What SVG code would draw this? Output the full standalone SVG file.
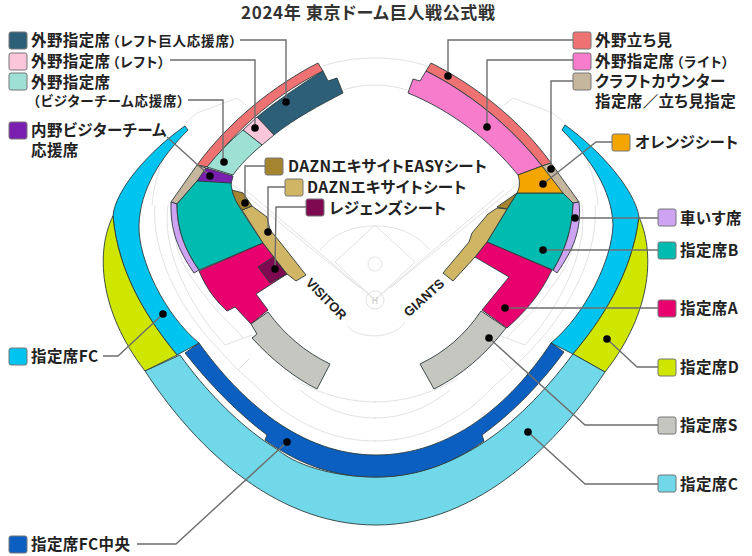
<svg xmlns="http://www.w3.org/2000/svg" width="752" height="556" viewBox="0 0 752 556">
<style>
text{font-family:"Noto Sans CJK JP","Noto Sans",sans-serif;font-weight:700;font-size:15.5px;letter-spacing:.4px;fill:#222;font-feature-settings:"palt"}
.s{font-size:13.5px;letter-spacing:.8px}
.t{font-size:17px;letter-spacing:0;fill:#333}
.sw{stroke:#777;stroke-width:1}
.r{stroke:#2c3c3c;stroke-width:.9;stroke-linejoin:round}
.f{fill:none;stroke:#e2e2e2;stroke-width:1}
.c{fill:none;stroke:#6e6e6e;stroke-width:1.4}
.d{fill:#000}
.vg{font-family:"Liberation Sans",sans-serif;font-size:13px;letter-spacing:0;fill:#222}
</style>
<rect width="752" height="556" fill="#fff"/>
<g id="field">
<path id="fh" class="f" d="M375,58C355,58 338,61 323,66M375,85C363,85 352,87 343,90M176,205C170,230 176,258 197,285C215,312 228,320 243,338M168,205C163,240 178,285 212,330L225,345L252,335M155,205C152,240 168,292 210,340L238,370L250,358M197,113L237,98L246,105M197,113C170,135 155,170 152,205M292,378C315,392 345,402 376,402M300,390C325,410 350,418 376,418M238,370C250,380 265,395 277,406C310,430 340,441 376,441"/>
<use href="#fh" transform="matrix(-1 0 0 1 750 0)"/>
<path class="f" d="M232,184L360,288M518,184L390,288M246,190L375,300L504,190M335,262L375,225L415,262L375,300ZM320,250C335,232 355,226 375,226C395,226 415,232 430,250M347,325C356,340 394,340 405,322"/>
<circle class="f" cx="375" cy="264" r="7"/>
<circle class="f" cx="375" cy="300" r="9"/>
<text x="375" y="304" text-anchor="middle" style="font-size:9px;fill:#c8c8c8;font-weight:400">H</text>
<text class="vg" transform="translate(323,302) rotate(46)" text-anchor="middle">VISITOR</text>
<text class="vg" transform="translate(427,301) rotate(-42)" text-anchor="middle">GIANTS</text>
</g>
<text class="t" x="241" y="19" textLength="254" lengthAdjust="spacing">2024年 東京ドーム巨人戦公式戦</text>

<g id="seat-gaiya-tachimi">
<path class="r" fill="#ef7272" d="M318,63L323,71C280,92 240,125 208,167L197,165C230,120 275,85 318,63Z"/>
<path class="r" fill="#ef7272" d="M431,63L426,71C468,92 510,125 542,166L551,163C520,120 475,85 431,63Z"/>
<rect class="sw" x="573" y="32" width="18" height="17" rx="2" fill="#ef7272"/><text x="595" y="46">外野立ち見</text>
</g>
<g id="seat-left-giants">
<path class="r" fill="#2d5f78" d="M323,71L328,81L337,78L343,93C320,105 295,118 274,135L257,117C278,100 300,85 323,71Z"/>
<rect class="sw" x="9" y="32" width="18" height="17" rx="2" fill="#2d5f78"/><text x="31" y="46">外野指定席<tspan class="s" dx="2">（レフト巨人応援席）</tspan></text>
</g>
<g id="seat-left">
<path class="r" fill="#fcc6da" d="M257,117L274,135L262,145L243,130Z"/>
<rect class="sw" x="9" y="53" width="18" height="17" rx="2" fill="#fcc6da"/><text x="31" y="67">外野指定席<tspan class="s" dx="2">（レフト）</tspan></text>
</g>
<g id="seat-left-visitor">
<path class="r" fill="#9fe0d5" d="M243,130L262,145C252,153 240,165 233,175L207,167C218,153 230,141 243,130Z"/>
<rect class="sw" x="9" y="73" width="18" height="17" rx="2" fill="#9fe0d5"/><text x="31" y="87.5">外野指定席</text><text class="s" x="33" y="105.5">（ビジターチーム応援席）</text>
</g>
<g id="seat-infield-visitor">
<path class="r" fill="#7b1fb0" d="M206,168L233,176L231,184L197,181Z"/>
<rect class="sw" x="9" y="122" width="18" height="17" rx="2" fill="#7b1fb0"/><text x="31" y="136">内野ビジターチーム</text><text x="31" y="156">応援席</text>
</g>
<g id="seat-craft">
<path class="r" fill="#c6b69e" d="M197,165L206,168L197,181L177,204L171,202Z"/>
<path class="r" fill="#c6b69e" d="M542,166L551,163L579,202L573,203L562,193Z"/>
<rect class="sw" x="573" y="73" width="18" height="17" rx="2" fill="#c6b69e"/><text x="595" y="87">クラフトカウンター</text><text x="595" y="107">指定席／立ち見指定</text>
</g>
<g id="seat-wheelchair">
<path class="r" fill="#cda3f2" d="M171,202L177,204C177,230 185,250 199,270L194,273C178,250 170,230 171,202Z"/>
<path class="r" fill="#cda3f2" d="M573,203L579,202C582,230 573,250 557,273L553,270C565,250 572,230 573,203Z"/>
<rect class="sw" x="658" y="209" width="18" height="17" rx="2" fill="#cda3f2"/><text x="680" y="224">車いす席</text>
</g>
<g id="seat-b">
<path class="r" fill="#00bcb0" d="M197,181L231,183C232,200 248,220 263,243L199,270C185,250 177,230 177,204Z"/>
<path class="r" fill="#00bcb0" d="M517,193L563,193L573,203C572,230 565,250 553,270L487,242Z"/>
<rect class="sw" x="658" y="242" width="18" height="17" rx="2" fill="#00bcb0"/><text x="680" y="256">指定席B</text>
</g>
<g id="seat-a">
<path class="r" fill="#e8006e" d="M263,243L287,274L256,294L268,310L251,324L235,307L227,311C212,297 205,285 199,271Z"/>
<path class="r" fill="#e8006e" d="M487,242L552,270C540,295 525,312 507,328L482,310L509,277L475,257Z"/>
<rect class="sw" x="658" y="300" width="18" height="17" rx="2" fill="#e8006e"/><text x="680" y="314">指定席A</text>
</g>
<g id="seat-legends">
<path class="r" fill="#7d0a50" d="M258,267L273,257L287,274L270,283Z"/>
<rect class="sw" x="306" y="199" width="18" height="17" rx="2" fill="#7d0a50"/><text x="329" y="214">レジェンズシート</text>
</g>
<g id="seat-dazn">
<path class="r" fill="#d0b565" d="M242,210L252,206L267,217L270,230L280,242L306,275L296,281L287,274L263,243Z"/>
<path class="r" fill="#d0b565" d="M497,208L507,209L487,242L475,257L453,281L443,273L469,242L472,233L488,214Z"/>
<rect class="sw" x="285" y="179" width="18" height="17" rx="2" fill="#d0b565"/><text x="307" y="193">DAZNエキサイトシート</text>
</g>
<g id="seat-dazn-easy">
<path class="r" fill="#a58430" d="M232,190L243,193L252,206L242,210C237,204 234,198 232,190Z"/>
<path class="r" fill="#a58430" d="M517,193L497,207L507,209Z"/>
<rect class="sw" x="265" y="158" width="18" height="17" rx="2" fill="#a58430"/><text x="288" y="172">DAZNエキサイトEASYシート</text>
</g>
<g id="seat-s">
<path class="r" fill="#c6c6c0" d="M268,312C285,335 305,352 330,364L317,389C295,378 272,360 252,338L257,334L251,324Z"/>
<path class="r" fill="#c6c6c0" d="M481,311L506,328C485,355 462,375 434,389L420,364C445,352 465,335 481,311Z"/>
<rect class="sw" x="658" y="417" width="18" height="17" rx="2" fill="#c6c6c0"/><text x="680" y="431">指定席S</text>
</g>
<g id="seat-gaiya-right">
<path class="r" fill="#f87ccc" d="M426,71L420,81L413,79L408,93C450,110 490,140 518,175L542,166C510,125 468,92 426,71Z"/>
<rect class="sw" x="573" y="53" width="18" height="17" rx="2" fill="#f87ccc"/><text x="595" y="67">外野指定席<tspan class="s" dx="2">（ライト）</tspan></text>
</g>
<g id="seat-orange">
<path class="r" fill="#f5a500" d="M518,175L542,166L563,193L517,193C520,187 520,181 518,175Z"/>
<rect class="sw" x="612" y="134" width="18" height="17" rx="2" fill="#f5a500"/><text x="635" y="148">オレンジシート</text>
</g>
<g id="seat-fc">
<path class="r" fill="#00c4f0" d="M185,126L188,130C160,158 140,190 139,225C138,260 165,315 199,343L177,355C150,322 118,275 113,216C115,190 150,150 185,126Z"/>
<path class="r" fill="#00c4f0" d="M565,125L562,130C590,158 612,190 613,225C612,260 585,315 551,343L573,354C600,322 632,275 639,217C635,190 600,150 565,125Z"/>
<rect class="sw" x="9" y="348" width="18" height="17" rx="2" fill="#00c4f0"/><text x="31" y="362">指定席FC</text>
</g>
<g id="seat-d">
<path class="r" fill="#cfe600" d="M113,216C96,250 98,310 145,371L177,355C150,322 118,275 113,216Z"/>
<path class="r" fill="#cfe600" d="M639,217C654,250 654,310 605,372L573,354C600,322 632,275 639,217Z"/>
<rect class="sw" x="658" y="359" width="18" height="17" rx="2" fill="#cfe600"/><text x="680" y="373">指定席D</text>
</g>
<g id="seat-c">
<path class="r" fill="#70d8e8" d="M145,371L180,355C205,390 235,420 263,440L278,450C300,468 340,477 376,477C412,477 450,465 486,441C520,418 550,385 573,354L605,372C560,440 480,525 376,525C270,525 190,440 145,371Z"/>
<rect class="sw" x="658" y="475" width="18" height="17" rx="2" fill="#70d8e8"/><text x="680" y="490">指定席C</text>
</g>
<g id="seat-fc-center">
<path class="r" fill="#0a5fc0" d="M199,343C240,400 300,455 376,455C450,455 510,405 551,343L564,352C540,385 510,415 482,435L484,441C450,465 415,477 376,477C335,477 300,465 265,440L267,435C240,415 210,385 185,353Z"/>
<rect class="sw" x="9" y="536" width="18" height="17" rx="2" fill="#0a5fc0"/><text x="31" y="550">指定席FC中央</text>
</g>
<g id="connectors">
<path class="c" d="M240,40H286V102M170,60H255V129M188,100H223V162M167,137L210,176M265,166H245V203M285,187H268V232M306,207H276L275,269M103,356H118L163,314M137,544H176L287,442M573,40H448V76M573,60H487V127M573,81H551V169M612,142H596L543,184M658,218H575M658,250H543M658,308H505M658,367H637L607,339M658,425H585L489,338M658,484H585L528,432"/>
<g class="d">
<circle cx="286" cy="102" r="3.8"/><circle cx="255" cy="128" r="3.8"/><circle cx="224" cy="162" r="3.8"/><circle cx="210" cy="176" r="3.8"/><circle cx="245" cy="203" r="3.8"/><circle cx="268" cy="232" r="3.8"/><circle cx="275" cy="269" r="3.8"/><circle cx="163" cy="314" r="3.8"/><circle cx="287" cy="442" r="3.8"/><circle cx="448" cy="76" r="3.8"/><circle cx="487" cy="127" r="3.8"/><circle cx="551" cy="169" r="3.8"/><circle cx="543" cy="184" r="3.8"/><circle cx="575" cy="218" r="3.8"/><circle cx="543" cy="250" r="3.8"/><circle cx="505" cy="308" r="3.8"/><circle cx="607" cy="339" r="3.8"/><circle cx="489" cy="338" r="3.8"/><circle cx="528" cy="432" r="3.8"/>
</g>
</g>
</svg>
